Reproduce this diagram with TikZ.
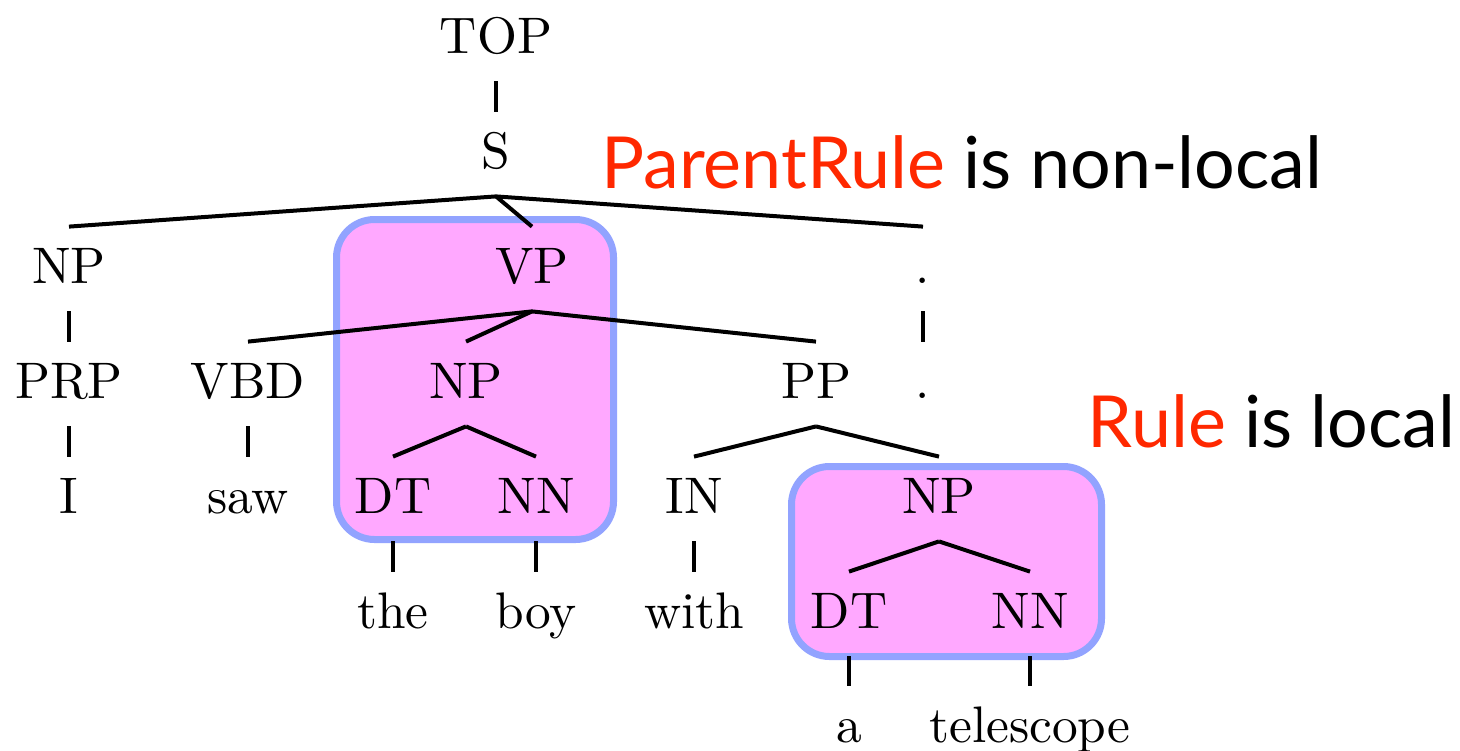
\documentclass[tikz,border=0pt]{standalone}
\usepackage{fontspec}
\usepackage{graphicx}
\usepackage{xcolor}
\usepackage{tikz}
\newfontfamily\notefont{Lato}

\definecolor{boxpink}{RGB}{255,168,255}
\definecolor{boxblue}{RGB}{146,163,255}
\definecolor{rulered}{RGB}{255,40,0}

% tree labels: 10pt design size, blown up
\newcommand\lbl[1]{\scalebox{2.57}{\fontsize{10}{12}\selectfont #1}}

\tikzset{
    cat/.style={anchor=base, inner sep=0pt, text height=28pt, text depth=14pt},
    branch/.style={line width=2pt},
    hilite/.style={draw=boxblue, fill=boxpink, line width=3.5pt, rounded corners=19pt},
    note/.style={anchor=base west, inner sep=0pt, font=\notefont\fontsize{35.9}{42}\selectfont}
}

\begin{document}
\begin{tikzpicture}[x=0.5pt, y=-0.5pt]
        \useasboundingbox (0,0) rectangle (1460,750);

        % highlighted rules
        \draw[hilite] (336.5,219.5) rectangle (613.5,539.5);
        \draw[hilite] (791.5,466.5) rectangle (1101.5,656.5);

        % tree
        \node[cat] (top) at (496,53) {\lbl{TOP}};
        \node[cat] (s) at (496,168) {\lbl{S}};

        \node[cat] (np1) at (69,283) {\lbl{NP}};
        \node[cat] (vp) at (532,283) {\lbl{VP}};
        \node[cat] (dot1) at (923,283) {\lbl{.}};

        \node[cat] (prp) at (69,398) {\lbl{PRP}};
        \node[cat] (vbd) at (248,398) {\lbl{VBD}};
        \node[cat] (np2) at (466,398) {\lbl{NP}};
        \node[cat] (pp) at (816,398) {\lbl{PP}};
        \node[cat] (dot2) at (923,398) {\lbl{.}};

        \node[cat] (i) at (69,513) {\lbl{I}};
        \node[cat] (saw) at (248,513) {\lbl{saw}};
        \node[cat] (dt1) at (393,513) {\lbl{DT}};
        \node[cat] (nn1) at (536,513) {\lbl{NN}};
        \node[cat] (in1) at (694,513) {\lbl{IN}};
        \node[cat] (np3) at (939,513) {\lbl{NP}};

        \node[cat] (the) at (393,628) {\lbl{the}};
        \node[cat] (boy) at (536,628) {\lbl{boy}};
        \node[cat] (with) at (694,628) {\lbl{with}};
        \node[cat] (dt2) at (849,628) {\lbl{DT}};
        \node[cat] (nn2) at (1030,628) {\lbl{NN}};

        \node[cat] (a) at (849,742) {\lbl{a}};
        \node[cat] (telescope) at (1030,742) {\lbl{telescope}};

        \foreach \p/\c in {top/s, s/np1, s/vp, s/dot1, np1/prp, dot1/dot2,
                vp/vbd, vp/np2, vp/pp, prp/i, vbd/saw, np2/dt1, np2/nn1,
                pp/in1, pp/np3, dt1/the, nn1/boy, in1/with, np3/dt2, np3/nn2,
                dt2/a, nn2/telescope}
            \draw[branch] (\p.south) -- (\c.north);

        % remarks
        \node[note] (nonlocal) at (601,188) {\textcolor{rulered}{ParentRule} is non-local};
        \node[note] (local) at (1087,447) {\textcolor{rulered}{Rule} is local};
\end{tikzpicture}
\end{document}
